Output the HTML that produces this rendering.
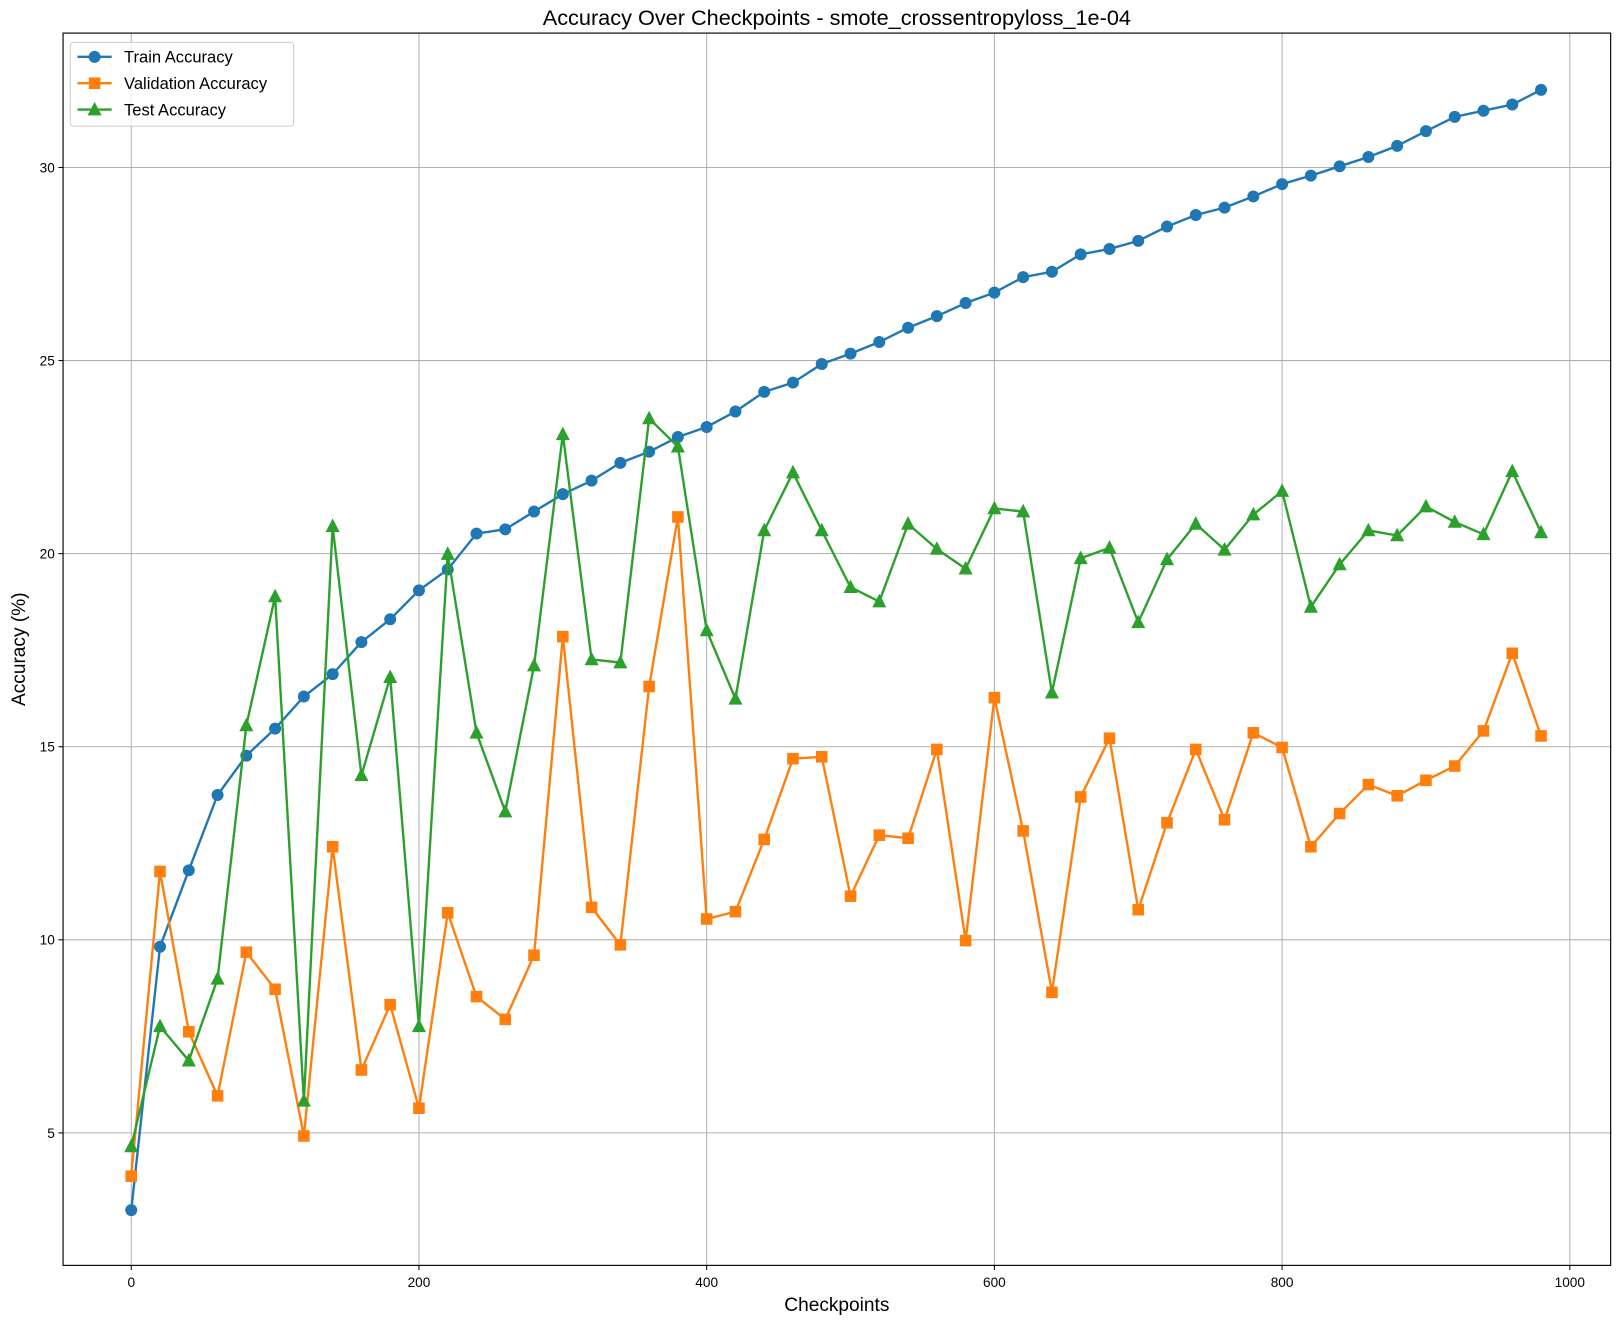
<!DOCTYPE html>
<html><head><meta charset="utf-8"><style>
html,body{margin:0;padding:0;background:#fff}
svg{display:block;font-family:"Liberation Sans","DejaVu Sans",sans-serif}
</style></head><body>
<svg id="chart" width="1621" height="1324" xmlns="http://www.w3.org/2000/svg"><g id="root" transform="scale(1.0338)"></g></svg>
<script>
const checkpoints = [];
for (let i = 0; i < 50; i++) checkpoints.push(i * 20);
const trainAcc = [3.0,9.82,11.80,13.75,14.77,15.47,16.30,16.88,17.71,18.30,19.05,19.59,20.52,20.63,21.09,21.54,21.89,22.35,22.64,23.02,23.28,23.68,24.19,24.43,24.91,25.18,25.48,25.85,26.15,26.49,26.76,27.16,27.30,27.75,27.89,28.10,28.47,28.77,28.96,29.25,29.57,29.79,30.03,30.27,30.56,30.94,31.31,31.47,31.63,32.01];
const valAcc = [3.88,11.77,7.62,5.96,9.68,8.72,4.92,12.41,6.63,8.32,5.64,10.70,8.53,7.94,9.60,17.85,10.84,9.87,16.56,20.95,10.54,10.73,12.60,14.69,14.74,11.13,12.71,12.63,14.93,9.98,16.27,12.82,8.64,13.70,15.22,10.78,13.03,14.93,13.11,15.36,14.98,12.41,13.27,14.02,13.73,14.13,14.50,15.41,17.42,15.28];
const testAcc = [4.65,7.76,6.87,8.99,15.55,18.89,5.83,20.71,14.26,16.80,7.76,19.99,15.36,13.32,17.10,23.09,17.26,17.18,23.50,22.77,18.01,16.24,20.60,22.10,20.60,19.13,18.76,20.77,20.12,19.61,21.17,21.09,16.40,19.88,20.15,18.22,19.85,20.77,20.10,21.01,21.62,18.62,19.72,20.60,20.47,21.22,20.82,20.50,22.13,20.55];
const xTicks = [0,200,400,600,800,1000];
const yTicks = [5,10,15,20,25,30];

const NS = "http://www.w3.org/2000/svg";
const svg = document.getElementById('root');
const L = 61, R = 1558, T = 32, B = 1224;
const X0 = -47.4, X1 = 1028.4, Y0 = 1.57, Y1 = 33.48;
function sx(v){ return L + (v - X0) / (X1 - X0) * (R - L); }
function sy(v){ return B - (v - Y0) / (Y1 - Y0) * (B - T); }
function mk(tag, attrs, parent){
  const e = document.createElementNS(NS, tag);
  for (const k in attrs) e.setAttribute(k, attrs[k]);
  (parent || svg).appendChild(e);
  return e;
}

const grid = mk('g', {});


xTicks.forEach(t => {
  mk('line', {x1:sx(t), x2:sx(t), y1:T, y2:B, stroke:'#b0b0b0', 'stroke-width':1}, grid);
});
yTicks.forEach(t => {
  mk('line', {x1:L, x2:R, y1:sy(t), y2:sy(t), stroke:'#b0b0b0', 'stroke-width':1}, grid);
});

const xAxis = mk('g', {});


xTicks.forEach(t => {
  mk('line', {x1:sx(t), x2:sx(t), y1:B, y2:B+4.5, stroke:'#000'}, xAxis);
  const tx = mk('text', {x:sx(t), y:B+21, 'text-anchor':'middle', 'font-size':13.2}, xAxis);
  tx.textContent = t;
  
  
});
const yAxis = mk('g', {});


yTicks.forEach(t => {
  mk('line', {x1:L-4.5, x2:L, y1:sy(t), y2:sy(t), stroke:'#000'}, yAxis);
  const tx = mk('text', {x:L-8, y:sy(t)+4.7, 'text-anchor':'end', 'font-size':13.2}, yAxis);
  tx.textContent = t;
  
  
});

function series(vals, color, marker, name){
  const g = mk('g', {});
  
  
  const pts = vals.map((v,i) => sx(checkpoints[i]) + ',' + sy(v)).join(' ');
  mk('polyline', {points:pts, fill:'none', stroke:color, 'stroke-width':2.3, 'stroke-linejoin':'round'}, g);
  vals.forEach((v,i) => drawMarker(g, sx(checkpoints[i]), sy(v), color, marker));
}
function drawMarker(g, x, y, color, marker){
  let m;
  if (marker === 'o') m = mk('circle', {cx:x, cy:y, r:5.8}, g);
  else if (marker === 's') m = mk('rect', {x:x-5.6, y:y-5.6, width:11.2, height:11.2}, g);
  else m = mk('polygon', {points:`${x},${y-7.5} ${x-6.8},${y+5.6} ${x+6.8},${y+5.6}`}, g);
  m.setAttribute('fill', color);
  
  
}
series(trainAcc, '#1f77b4', 'o', 'train-accuracy-series');
series(valAcc, '#ff7f0e', 's', 'validation-accuracy-series');
series(testAcc, '#2ca02c', '^', 'test-accuracy-series');

const frame = mk('rect', {x:L, y:T, width:R-L, height:B-T, fill:'none', stroke:'#000', 'stroke-width':1.1});



const title = mk('text', {x:(L+R)/2, y:24, 'text-anchor':'middle', 'font-size':21});
title.textContent = 'Accuracy Over Checkpoints - smote_crossentropyloss_1e-04';


const xl = mk('text', {x:(L+R)/2, y:1268, 'text-anchor':'middle', 'font-size':18.5});
xl.textContent = 'Checkpoints';


const yl = mk('text', {x:0, y:0, 'text-anchor':'middle', 'font-size':18.5, transform:`translate(24,${(T+B)/2}) rotate(-90)`});
yl.textContent = 'Accuracy (%)';



const lg = mk('g', {});


mk('rect', {x:68, y:41, width:216, height:81, rx:3, fill:'#fff', 'fill-opacity':0.8, stroke:'#ccc'}, lg);
const entries = [['Train Accuracy','#1f77b4','o'],['Validation Accuracy','#ff7f0e','s'],['Test Accuracy','#2ca02c','^']];
entries.forEach((e,i) => {
  const y = 55 + i*25.5;
  const eg = mk('g', {}, lg);
  
  
  mk('line', {x1:75, x2:108, y1:y, y2:y, stroke:e[1], 'stroke-width':2.3}, eg);
  drawMarker(eg, 91.5, y, e[1], e[2]);
  const t = mk('text', {x:120, y:y+5.5, 'font-size':16}, eg);
  t.textContent = e[0];
});
</script>
</body></html>
